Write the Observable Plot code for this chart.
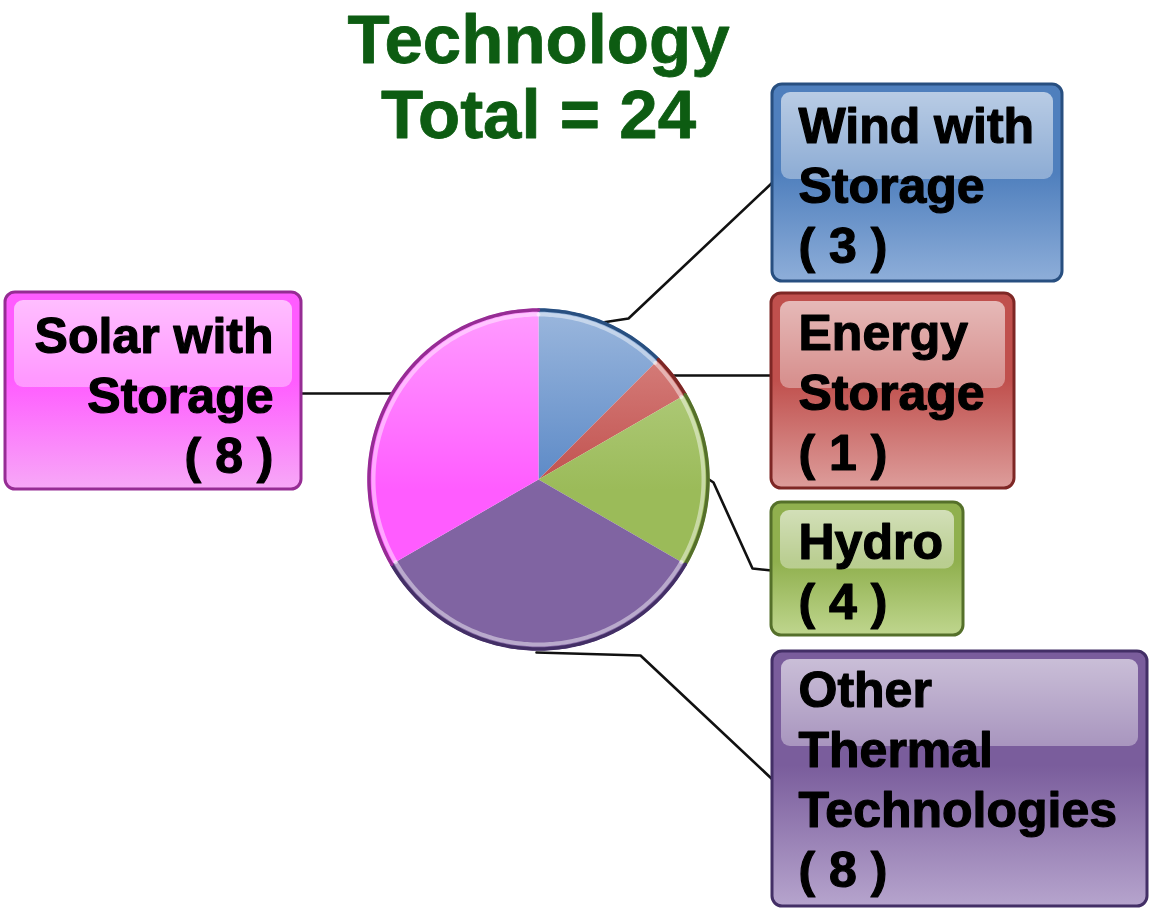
<!DOCTYPE html>
<html><head><meta charset="utf-8">
<script src="https://cdn.jsdelivr.net/npm/d3@7"></script>
<script src="https://cdn.jsdelivr.net/npm/@observablehq/plot@0.6"></script>
<style>body{margin:0;background:#fff;} svg{display:block}</style>
</head><body><div id="chart"></div>
<script>
// ---- data ----
const titleLines = ["Technology", "Total = 24"];
const categories = ["Wind with Storage", "Energy Storage", "Hydro", "Other Thermal Technologies", "Solar with Storage"];
const counts = [3, 1, 4, 8, 8];
const labelLines = [["Wind with", "Storage"], ["Energy", "Storage"], ["Hydro"], ["Other", "Thermal", "Technologies"], ["Solar with", "Storage"]];

// ---- styles ----
const baseColors  = ["#5a88c6", "#c0504d", "#9bbb59", "#8064a2", "#ff5cff"];
const lightColors = ["#9bb7dd", "#dc8c89", "#bcd48f", "#a18bbd", "#ff9cff"];
const darkColors  = ["#284f80", "#7e2725", "#55702a", "#432f66", "#962c94"];
const boxMid      = ["#4f7fbd", "#c0504d", "#90b04e", "#7a5d9c", "#ff5cff"];
const boxBottom   = ["#8eaed9", "#dd9d9b", "#bfd68e", "#b6a4cd", "#f7a8f7"];

// ---- layout ----
const W = 1153, H = 908, cx = 538, cy = 479, R = 171;
const boxes = [
  {x1: 772, y1: 84,  x2: 1062, y2: 281, tx: 798, anchor: "start", ty: 142},
  {x1: 771, y1: 293, x2: 1014, y2: 488, tx: 798, anchor: "start", ty: 349},
  {x1: 771, y1: 502, x2: 963,  y2: 635, tx: 798, anchor: "start", ty: 558},
  {x1: 772, y1: 651, x2: 1147, y2: 906, tx: 798, anchor: "start", ty: 706},
  {x1: 5,   y1: 292, x2: 301,  y2: 489, tx: 273, anchor: "end",   ty: 352}
];
const lineStep = 60;
const leaders = [
  [[602, 322], [628, 318], [772, 182]],
  [[672, 375], [771, 375]],
  [[707, 478], [713, 482], [752, 568], [771, 570]],
  [[536, 652], [640, 655], [772, 779]],
  [[301, 393], [392, 393]]
];

// ---- derived geometry ----
const arcs = d3.pie().sort(null).value(d => d)(counts);
function arcPoints(a, r) {
  const n = Math.max(6, Math.ceil((a.endAngle - a.startAngle) / (Math.PI / 180)));
  const pts = [];
  for (let k = 0; k <= n; k++) {
    const t = a.startAngle + (a.endAngle - a.startAngle) * k / n;
    pts.push({x: cx + r * Math.sin(t), y: cy - r * Math.cos(t)});
  }
  return pts;
}
const slicePts = arcs.map(a => [{x: cx, y: cy}, ...arcPoints(a, R)]);
const leaderPts = leaders.flatMap((l, i) => l.map(([x, y]) => ({x, y, k: i})));

const texts = [];
boxes.forEach((b, i) => {
  const lines = [...labelLines[i], `( ${counts[i]} )`];
  lines.forEach((t, j) => texts.push({x: b.tx, y: b.ty + j * lineStep, t, anchor: b.anchor}));
});
const titleData = titleLines.map((t, j) => ({x: 538, y: 62 + j * 75, t}));

const font = "Liberation Sans, Arial, sans-serif";
const marks = [];
marks.push(Plot.line(leaderPts, {x: "x", y: "y", z: "k", stroke: "#111", strokeWidth: 2.6}));
slicePts.forEach((pts, i) => {
  marks.push(Plot.line(pts, {x: "x", y: "y", fill: `url(#ps${i})`, stroke: "none", curve: "linear-closed"}));
});
arcs.forEach((a, i) => {
  marks.push(Plot.line(arcPoints(a, R - 6), {x: "x", y: "y", stroke: "#ffffff", strokeOpacity: 0.45, strokeWidth: 4}));
  marks.push(Plot.line(arcPoints(a, R - 1.5), {x: "x", y: "y", stroke: darkColors[i], strokeWidth: 3.5}));
});
boxes.forEach((b, i) => {
  marks.push(Plot.rect([b], {x1: "x1", x2: "x2", y1: "y1", y2: "y2", fill: `url(#bx${i})`, stroke: darkColors[i], strokeWidth: 3, rx: 10}));
  const hi = {x1: b.x1 + 9, x2: b.x2 - 9, y1: b.y1 + 8, y2: b.y1 + Math.min(95, (b.y2 - b.y1) * 0.5)};
  marks.push(Plot.rect([hi], {x1: "x1", x2: "x2", y1: "y1", y2: "y2", fill: "url(#hl)", rx: 9}));
});
for (const anchor of ["start", "end"]) {
  marks.push(Plot.text(texts.filter(d => d.anchor === anchor), {x: "x", y: "y", text: "t", textAnchor: anchor, lineAnchor: "bottom", fontSize: 50, fontWeight: "bold", fill: "#000", stroke: "#000", strokeWidth: 1.2, fontFamily: font}));
}
marks.push(Plot.text(titleData, {x: "x", y: "y", text: "t", textAnchor: "middle", lineAnchor: "bottom", fontSize: 69, fontWeight: "bold", fill: "#0d5c12", stroke: "#0d5c12", strokeWidth: 0.8, fontFamily: font}));

const svg = Plot.plot({
  width: W, height: H, margin: 0,
  x: {domain: [0, W], range: [0, W], axis: null},
  y: {domain: [0, H], range: [0, H], axis: null},
  style: {background: "#fff", overflow: "visible"},
  marks
});

// gradients
const defs = d3.select(svg).insert("defs", ":first-child");
baseColors.forEach((c, i) => {
  const g = defs.append("linearGradient").attr("id", `ps${i}`).attr("gradientUnits", "userSpaceOnUse")
    .attr("x1", 0).attr("y1", cy - R).attr("x2", 0).attr("y2", cy + 10);
  g.append("stop").attr("offset", 0).attr("stop-color", lightColors[i]);
  g.append("stop").attr("offset", 1).attr("stop-color", c);
  const b = defs.append("linearGradient").attr("id", `bx${i}`).attr("x1", 0).attr("y1", 0).attr("x2", 0).attr("y2", 1);
  b.append("stop").attr("offset", 0).attr("stop-color", boxMid[i]);
  b.append("stop").attr("offset", 0.45).attr("stop-color", boxMid[i]);
  b.append("stop").attr("offset", 1).attr("stop-color", boxBottom[i]);
});
const hl = defs.append("linearGradient").attr("id", "hl").attr("x1", 0).attr("y1", 0).attr("x2", 0).attr("y2", 1);
hl.append("stop").attr("offset", 0).attr("stop-color", "#fff").attr("stop-opacity", 0.6);
hl.append("stop").attr("offset", 1).attr("stop-color", "#fff").attr("stop-opacity", 0.35);

document.getElementById("chart").appendChild(svg);
</script>
</body></html>
